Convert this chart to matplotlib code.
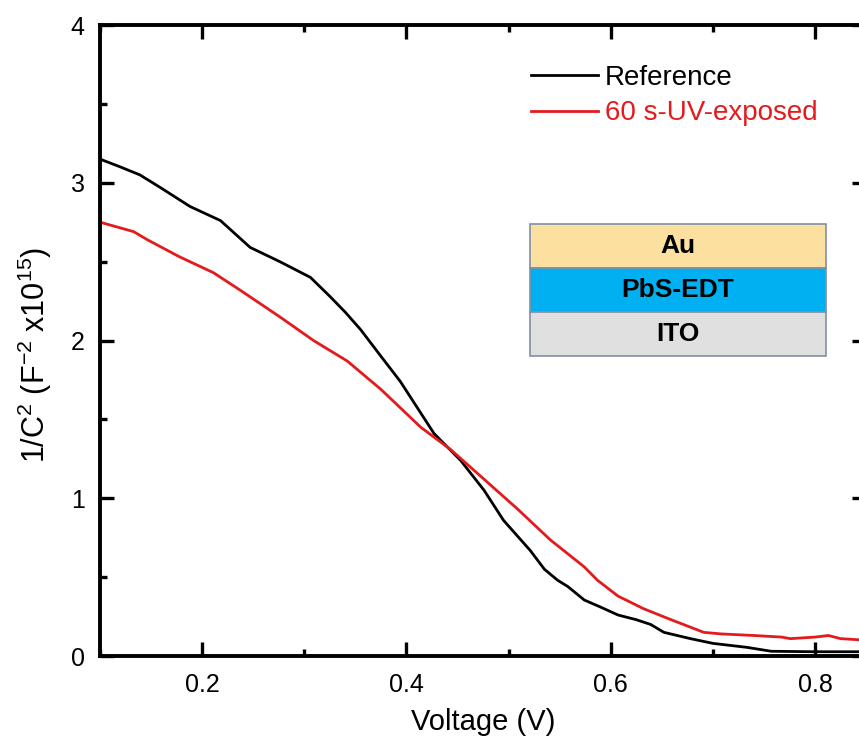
import matplotlib
matplotlib.use('Agg')
import matplotlib.pyplot as plt
from matplotlib.ticker import MultipleLocator
from matplotlib.patches import Rectangle

plt.rcParams['font.family'] = ['Liberation Sans', 'DejaVu Sans']
plt.rcParams['mathtext.fontset'] = 'custom'
plt.rcParams['mathtext.rm'] = 'Liberation Sans'
plt.rcParams['mathtext.it'] = 'Liberation Sans:italic'
plt.rcParams['mathtext.bf'] = 'Liberation Sans:bold'

# Mott-Schottky data
v_ref = [0.100, 0.120, 0.139, 0.159, 0.188, 0.218, 0.247, 0.276, 0.306, 0.325,
         0.340, 0.355, 0.375, 0.394, 0.410, 0.427, 0.453, 0.476, 0.495, 0.521,
         0.535, 0.548, 0.558, 0.574, 0.590, 0.607, 0.625, 0.639, 0.652, 0.678,
         0.700, 0.733, 0.757, 0.800, 0.850]
c_ref = [3.15, 3.10, 3.05, 2.97, 2.85, 2.76, 2.59, 2.50, 2.40, 2.28,
         2.18, 2.07, 1.90, 1.74, 1.58, 1.41, 1.24, 1.05, 0.86, 0.67,
         0.55, 0.48, 0.44, 0.355, 0.31, 0.26, 0.23, 0.20, 0.15, 0.11,
         0.08, 0.055, 0.03, 0.027, 0.027]

v_uv = [0.100, 0.133, 0.146, 0.178, 0.211, 0.237, 0.276, 0.309, 0.342, 0.375,
        0.414, 0.443, 0.476, 0.509, 0.541, 0.574, 0.587, 0.607, 0.632, 0.659,
        0.691, 0.708, 0.740, 0.767, 0.776, 0.800, 0.813, 0.825, 0.850]
c_uv = [2.75, 2.69, 2.64, 2.53, 2.43, 2.32, 2.15, 2.00, 1.87, 1.69,
        1.45, 1.31, 1.12, 0.93, 0.735, 0.565, 0.48, 0.38, 0.30, 0.23,
        0.15, 0.14, 0.13, 0.12, 0.11, 0.12, 0.13, 0.11, 0.10]

layers = ['Au', 'PbS-EDT', 'ITO']
layer_colors = ['#fbe0a0', '#00b0f0', '#e0e0e0']

fig = plt.figure(figsize=(8.59, 7.42), dpi=100)
ax = fig.add_axes([0.1164, 0.1159, 0.892, 0.8504])

ax.plot(v_ref, c_ref, color='black', lw=2.0, label='Reference')
ax.plot(v_uv, c_uv, color='#e41a1c', lw=2.0, label='60 s-UV-exposed')

ax.set_xlim(0.1, 0.85)
ax.set_ylim(0, 4)
ax.xaxis.set_major_locator(MultipleLocator(0.2))
ax.xaxis.set_minor_locator(MultipleLocator(0.1))
ax.yaxis.set_major_locator(MultipleLocator(1))
ax.yaxis.set_minor_locator(MultipleLocator(0.5))
ax.set_xticks([0.2, 0.4, 0.6, 0.8])
ax.set_xticklabels(['0.2', '0.4', '0.6', '0.8'])

for s in ax.spines.values():
    s.set_linewidth(2.8)
ax.tick_params(which='both', direction='in', top=True, right=True,
               width=2.4, labelsize=18)
ax.tick_params(axis='x', pad=12)
ax.tick_params(axis='y', pad=11)
ax.tick_params(which='major', length=10)
ax.tick_params(which='minor', length=5)

ax.set_xlabel('Voltage (V)', fontsize=21, labelpad=8)
ax.set_ylabel(r'1/C$^2$ (F$^{-2}$ x10$^{15}$)', fontsize=22)
ax.yaxis.set_label_coords(-0.06, 0.477)

leg = ax.legend(loc='upper left', bbox_to_anchor=(0.548, 0.955), frameon=False,
                fontsize=20, handlelength=2.4, handletextpad=0.25,
                labelspacing=0.35, borderaxespad=0)
for txt, line in zip(leg.get_texts(), leg.get_lines()):
    txt.set_color(line.get_color())

# layer stack inset
x0, w, h = 0.561, 0.386, 0.0697
ytop = 0.685
for i, (name, col) in enumerate(zip(layers, layer_colors)):
    yb = ytop - (i + 1) * h
    ax.add_patch(Rectangle((x0, yb), w, h, transform=ax.transAxes,
                           facecolor=col, edgecolor='#8090a8', lw=1.2, zorder=5))
    ax.text(x0 + w / 2, yb + h / 2, name, transform=ax.transAxes,
            ha='center', va='center', fontsize=19, fontweight='bold', zorder=6)

fig.savefig('out.png', dpi=100)
